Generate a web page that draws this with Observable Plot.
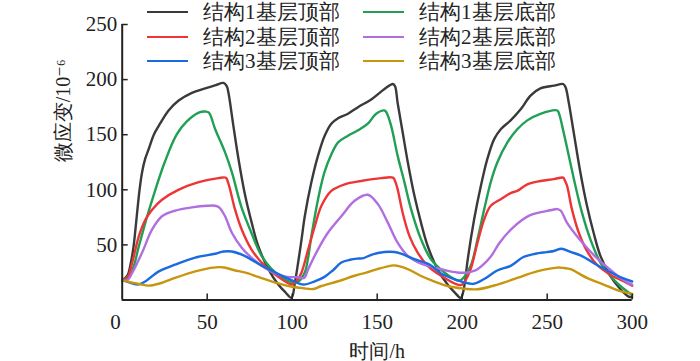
<!DOCTYPE html>
<html>
<head>
<meta charset="utf-8">
<script src="https://cdn.jsdelivr.net/npm/d3@7"></script>
<script src="https://cdn.jsdelivr.net/npm/@observablehq/plot@0.6"></script>
<style>
  html, body { margin: 0; padding: 0; background: #fff; }
  #wrap { position: relative; width: 700px; height: 361px; font-family: "Liberation Serif", "Times New Roman", "DejaVu Serif", serif; color: #222; }
  #wrap svg text { font-family: "Liberation Serif", "Times New Roman", "DejaVu Serif", serif; }
  #legend { position: absolute; left: 147px; top: 0px; display: grid; grid-template-columns: 216px 200px; row-gap: 0px; }
  .item { display: flex; align-items: center; height: 24.5px; font-size: 21px; white-space: nowrap; }
  .sw { width: 41px; height: 0; border-top: 2.5px solid; margin-right: 15px; }
</style>
</head>
<body>
<div id="wrap"><div id="legend"></div></div>
<script>
// ---- data ----
const seriesNames = ["结构1基层顶部", "结构1基层底部", "结构2基层顶部", "结构2基层底部", "结构3基层顶部", "结构3基层底部"];
const seriesColors = ["#3a3a3a", "#1fa055", "#ee3535", "#b06ee0", "#1b6be0", "#c8960e"];
const xTicks = [50, 100, 150, 200, 250, 300];
const yTicks = [50, 100, 150, 200, 250];

const s1TopT = [0,3,5,6.8,8.5,10.2,11.7,13.5,15.6,18.6,21.5,27.3,33.2,41,48.8,55,59.6,61.5,62.5,65.4,68.4,72.3,76.2,80,86,91.8,96,99.6,
  101.5,103.5,105.5,107.4,111.3,115.2,119.1,123,127,132.8,138.7,146.5,154.3,159.2,160.5,162,165,168,171.9,175.8,179.7,185.5,191.4,195.5,199.2,
  201.5,203,207,211,214.8,218.8,222.7,228.5,234.4,240.2,246,254,259.4,260.8,262.7,265.6,269.5,273.4,277.3,281.3,287.1,293,297.9,300];
const s1TopV = [18,22,33,50,75,100,116,128,137,150,158,172,181,188,192,195,197,194,188,158,128,95,70,49,28,14,7,2,
  15,34,55,76,107,131,149,160,165,169,175,182,191.5,196,194,179,152,125,94.5,70,49,28,14,7,2,
  15,34,73,103.6,128,146,155,163,173,185.5,192,194.5,196,193,179,152,116,85.5,61,40,22,10,3,2.5];

const s1BotT = [0,5,10,14.5,19.5,25,32,38,45,49,51,54.7,60.5,64.5,70,76,82,90,99.6,
  103,107.4,109,111.3,115.2,119,123,127,132.8,138.7,144.5,149.4,154.3,155.5,158.2,162,166,170,175.8,181.6,189.5,195.3,198,
  200,205,209,212.9,216.8,220.7,226.6,232.4,238.3,246,255.9,257.2,258.8,262.7,266.6,270.5,275.4,281.3,287.1,293,296.9,300];
const s1BotV = [18,24,50,75,100,125,150,162,170,171,170,155,134,116,85,61,40,25,16,
  16,25,35,58,91.5,116,132,143,149,154,160,169,172,170,158,131,107,82,55,37,25,19,17.5,
  19,31,55,82,107,125,143,155,163,169,172,168,158,131,103.6,79,55,34,22,12.7,8,4.5];

const s2TopT = [0,3,5.9,9.8,13.7,17.6,23.4,33,45,56.6,61,62,63.5,66.4,70.3,76,82,90,99.6,
  101,103,105.5,109.4,113.3,117.2,123,130.9,140.6,152.3,159.2,160.5,162,165,169,173.8,179.7,187.5,197.3,
  200,202,205,209,212.9,216.8,222.7,228.5,232.4,238.3,246,254,259.4,260.5,261.7,264.6,268.6,273.4,279.3,287.1,294.9,300];
const s2TopV = [18,20,34,58,73,82,91,100,107,110.6,111,108,100,82,64,46,34,23,14,
  15,18,25,46,67,85.5,99,105,108,110.6,111,108,100.6,79,58,43,31,22,14,
  14,18,28,52,73,85.5,91.5,97,99,105,108,109.7,111,108,103.6,82,61,44.5,32,23,17,13];

const s2BotT = [0,3,6,11.7,17.6,23.4,31,41,50,54.7,57,60.5,64.5,70.3,76,84,91.8,97,103,107,
  109.4,115.2,121,128.9,136.7,144.5,150.4,156.3,162,168,175.8,181,190,197,203,
  206,209,216.6,222,230,240,251.9,256,258,261.7,269.6,279.4,289,296.9,300];
const s2BotV = [18,18,25,43,64,76,81,84,85.5,85.5,84,76,61,47.5,38.5,29,23,21,20.7,20,
  28,46,61,76,90,95.5,87,70,52,40,33,30.5,27,25,25,
  26,28,39,52,66,77,81.4,82.5,81,70,54,37.7,25,16,14];

const s3TopT = [0,4,8.8,13.7,21.5,31,43,54.7,59.6,64.5,72,80,90,99.6,106.6,113.3,119,124,128.9,134,138.7,142,146.5,154.3,160,164,171.9,181,187.5,195.3,200,
  206.8,212.9,220.6,228.5,236,243,249.6,254,258.4,263.7,269.6,281.4,293,300];
const s3TopV = [18,16,14,17,26,32,38.5,42,44,44,40,33,25,18,14,17,21,27,34,36.5,37.6,38,41,43.5,43.5,42,37,32,24,19,16.5,
  14.7,19,26.8,31,39,42,43.5,44.5,46.5,43.6,40.5,30,20.7,16.8];

const s3BotT = [0,5,10,15.6,22,31,43,50,56.6,60,66,72,80,91.8,100,105,112.5,117.2,127,136.7,144,150,159.6,162,168,175.5,181.6,191.4,200,
  209,220.7,232.4,244,255.9,260,263.7,273.4,283.2,293,300];
const s3BotV = [18,16,14.5,13,15,20,26,28.5,29.8,29.5,27,25,21,15,12,11,10,12.7,17,22,25,28,31.4,31,28,22,18,12.7,10.5,
  9.7,14,20,26,29.4,29,28,20,14,8,5.5];

const seriesT = [s1TopT, s1BotT, s2TopT, s2BotT, s3TopT, s3BotT];
const seriesV = [s1TopV, s1BotV, s2TopV, s2BotV, s3TopV, s3BotV];

const rows = [];
seriesNames.forEach((name, i) => {
  seriesT[i].forEach((t, j) => rows.push({series: name, t, v: seriesV[i][j]}));
});

const ink = "#222";
const serifFont = "Liberation Serif, Times New Roman, DejaVu Serif, serif";
const W = 700, H = 361, mT = 24, mB = 61.5, mL = 121.7, mR = 68.3;
const frameW = W - mL - mR, frameH = H - mT - mB;
const tickLen = 6;

const chart = Plot.plot({
  width: W,
  height: H,
  marginTop: mT,
  marginBottom: mB,
  marginLeft: mL,
  marginRight: mR,
  style: {background: "#fff", color: "#222", overflow: "visible"},
  x: {domain: [0, 300]},
  y: {domain: [0, 250]},
  color: {domain: seriesNames, range: seriesColors},
  marks: [
    Plot.line(rows, {x: "t", y: "v", z: "series", stroke: "series", strokeWidth: 2.4, curve: "catmull-rom"}),
    Plot.tickX(xTicks, {x: d => d, stroke: ink, strokeWidth: 1.5, insetTop: frameH - tickLen}),
    Plot.tickY(yTicks, {y: d => d, stroke: ink, strokeWidth: 1.5, insetRight: frameW - tickLen}),
    Plot.axisX({ticks: xTicks, tickSize: 0, tickPadding: 14, fontSize: 21, fontFamily: serifFont, fill: ink, label: null}),
    Plot.axisY({ticks: yTicks, tickSize: 0, tickPadding: 5, fontSize: 21, fontFamily: serifFont, fill: ink, label: null}),
    Plot.text(["0"], {frameAnchor: "bottom-left", text: d => d, dx: -12, dy: 22, fontSize: 21, fontFamily: serifFont, fill: ink, lineAnchor: "middle"}),
    Plot.ruleX([0], {stroke: ink, strokeWidth: 2}),
    Plot.ruleY([0], {stroke: ink, strokeWidth: 2}),
    Plot.text(["时间/h"], {frameAnchor: "bottom", text: d => d, dy: 51.5, fontSize: 20, fontFamily: serifFont, fill: ink, lineAnchor: "middle"}),
    Plot.text(["微应变/10⁻⁶"], {frameAnchor: "left", text: d => d, dx: -59, rotate: -90, fontSize: 20, fontFamily: serifFont, fill: ink, lineAnchor: "middle"})
  ]
});

const wrap = document.getElementById("wrap");
wrap.insertBefore(chart, wrap.firstChild);

// legend (HTML, two columns: tops left, bottoms right)
const legend = document.getElementById("legend");
seriesNames.forEach((name, i) => {
  const item = document.createElement("div");
  item.className = "item";
  const sw = document.createElement("span");
  sw.className = "sw";
  sw.style.borderTopColor = seriesColors[i];
  item.appendChild(sw);
  const label = document.createElement("span");
  label.textContent = name;
  item.appendChild(label);
  legend.appendChild(item);
});
</script>
</body>
</html>
